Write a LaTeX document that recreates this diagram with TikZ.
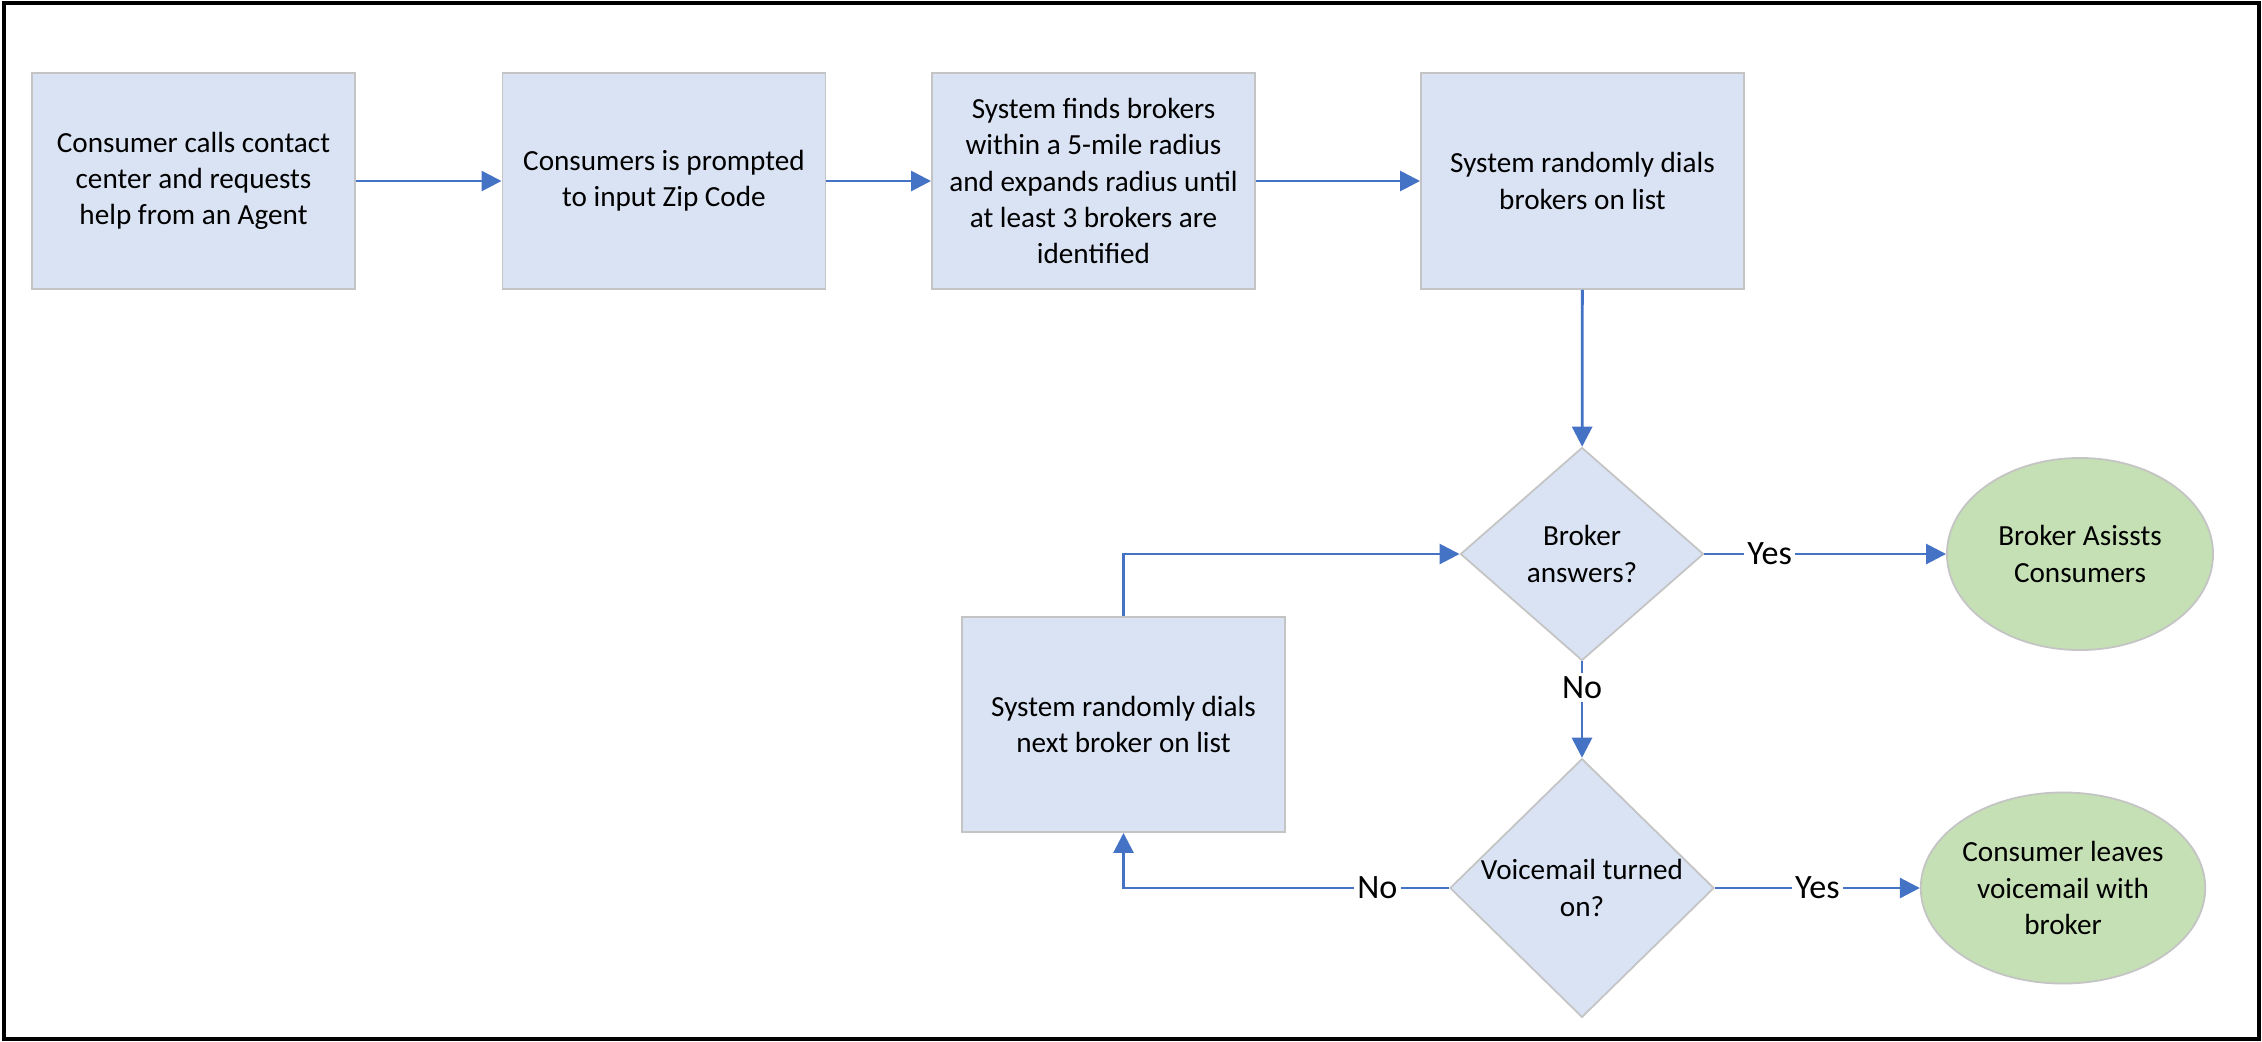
\documentclass[tikz,border=0pt]{standalone}
\usepackage{fontspec}
\setmainfont{Carlito}
\usetikzlibrary{shapes.geometric,arrows.meta}
\definecolor{boxblue}{HTML}{DAE3F3}
\definecolor{endgreen}{HTML}{C5E0B4}
\definecolor{edgegray}{HTML}{C4C4C4}
\definecolor{linkblue}{HTML}{4472C4}

\begin{document}
\begin{tikzpicture}[x=0.01cm, y=-0.01cm,
    stepbox/.style={rectangle, draw=edgegray, line width=0.5pt, fill=boxblue,
      minimum width=3.23cm, minimum height=2.16cm, inner sep=0pt, align=center,
      font=\fontsize{8.3}{10.3}\selectfont},
    question/.style={diamond, draw=edgegray, line width=0.5pt, fill=boxblue,
      inner sep=0pt, align=center, font=\fontsize{8.3}{10.3}\selectfont},
    outcome/.style={ellipse, draw=edgegray, line width=0.5pt, fill=endgreen,
      minimum width=2.66cm, minimum height=1.92cm, inner sep=0pt, align=center,
      font=\fontsize{8.3}{10.3}\selectfont},
    link/.style={draw=linkblue, line width=0.8pt, -{Triangle[length=0.2cm, width=0.2cm]}},
    answer/.style={fill=white, inner sep=1pt, font=\fontsize{9.7}{11}\selectfont}]

\useasboundingbox (0,0) rectangle (2262,1041);
\draw [line width=1.1pt] (4,3) rectangle (2259,1039);

\node [stepbox] (call) at (193.5,181) {Consumer calls contact\\center and requests\\help from an Agent};
\node [stepbox] (zip) at (664,181) {Consumers is prompted\\to input Zip Code};
\node [stepbox] (find) at (1093.5,181) {System finds brokers\\within a 5-mile radius\\and expands radius until\\at least 3 brokers are\\identified};
\node [stepbox] (dial) at (1582.5,181) {System randomly dials\\brokers on list};

\node [question, minimum width=2.43cm, minimum height=2.13cm] (answers) at (1582,554) {Broker\\answers?};
\node [outcome] (assist) at (2080,554) {Broker Asissts\\Consumers};

\node [question, minimum width=2.64cm, minimum height=2.42cm] (voicemail) at (1582,888) {Voicemail turned\\on?};
\node [outcome, minimum width=2.65cm, minimum height=1.91cm] (leave) at (2063,888) {Consumer leaves\\voicemail with\\broker};

\node [stepbox, minimum height=2.15cm] (next) at (1123.5,724.5) {System randomly dials\\next broker on list};

\draw [link] (call) -- (zip);
\draw [link] (zip) -- (find);
\draw [link] (find) -- (dial);
\draw [link] (dial) -- (answers);
\draw [link] (answers) -- node [answer, pos=0.27] {Yes} (assist);
\draw [link] (answers) -- node [answer, pos=0.27] {No} (voicemail);
\draw [link] (voicemail) -- node [answer] {Yes} (leave);
\draw [link] (voicemail.west) -| node [answer, pos=0.11] {No} (next.south);
\draw [link] (next.north) |- (answers.west);

\end{tikzpicture}
\end{document}
